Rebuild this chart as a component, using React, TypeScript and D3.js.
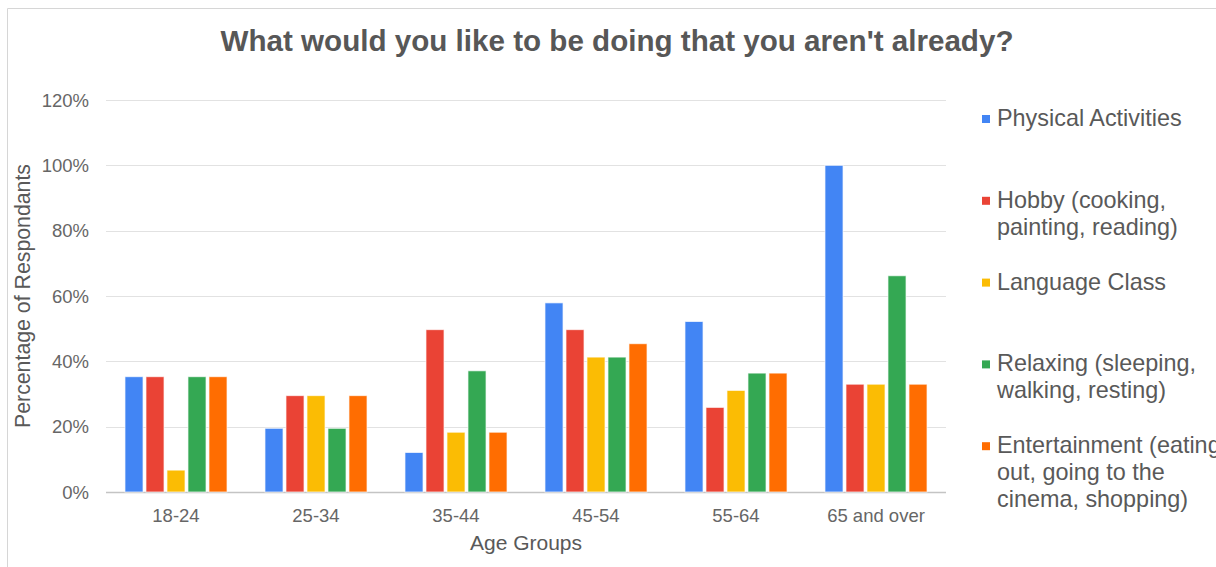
import React from "react";
import * as d3 from "d3";

// Survey results: share of respondents per age group wanting each activity
const ageGroups = ["18-24", "25-34", "35-44", "45-54", "55-64", "65 and over"];
const seriesNames = [
  "Physical Activities",
  "Hobby (cooking, painting, reading)",
  "Language Class",
  "Relaxing (sleeping, walking, resting)",
  "Entertainment (eating out, going to the cinema, shopping)",
];
const legendLines = [
  ["Physical Activities"],
  ["Hobby (cooking,", "painting, reading)"],
  ["Language Class"],
  ["Relaxing (sleeping,", "walking, resting)"],
  ["Entertainment (eating", "out, going to the", "cinema, shopping)"],
];
const physicalActivities = [35.3, 19.5, 12.1, 57.9, 52.2, 100];
const hobby = [35.3, 29.5, 49.7, 49.7, 25.9, 33];
const languageClass = [6.7, 29.5, 18.3, 41.3, 31.1, 33];
const relaxing = [35.3, 19.5, 37.1, 41.3, 36.4, 66.2];
const entertainment = [35.3, 29.5, 18.3, 45.4, 36.4, 33];
const yTicks = [0, 20, 40, 60, 80, 100, 120];

const seriesValues = [physicalActivities, hobby, languageClass, relaxing, entertainment];
const colors = ["#4285F4", "#EA4335", "#FBBC04", "#34A853", "#FF6D01"];

const W = 1216;
const H = 567;
const FONT = "'Liberation Sans', Arial, sans-serif";

export default function App() {
  const plotLeft = 106;
  const plotRight = 946;
  const plotTop = 100;
  const plotBottom = 492;

  const x0 = d3
    .scaleBand<string>()
    .domain(ageGroups)
    .range([plotLeft, plotRight])
    .paddingInner(0.25)
    .paddingOuter(0.125);
  const x1 = d3
    .scaleBand<string>()
    .domain(seriesNames)
    .range([0, x0.bandwidth()])
    .paddingInner(0.14)
    .paddingOuter(0.07);
  const y = d3.scaleLinear().domain([0, 120]).range([plotBottom, plotTop]);

  const legendX = 982;
  const legendTop = 126;
  const legendStep = 81.8;
  const legendLineH = 26.7;

  return (
    <svg
      width={W}
      height={H}
      style={{ position: "absolute", left: 0, top: 0, background: "#fff" }}
      fontFamily={FONT}
    >
      {/* frame */}
      <line x1={7.5} y1={8.5} x2={W} y2={8.5} stroke="#d6d6d6" strokeWidth={1} />
      <line x1={7.5} y1={8.5} x2={7.5} y2={H} stroke="#d6d6d6" strokeWidth={1} />

      {/* title */}
      <text
        x={617}
        y={50.5}
        textAnchor="middle"
        fontSize={29.6}
        fontWeight="bold"
        fill="#575757"
      >
        What would you like to be doing that you aren't already?
      </text>

      {/* gridlines and y tick labels */}
      {yTicks.map((t) => (
        <g key={t}>
          <line
            x1={plotLeft}
            x2={plotRight}
            y1={Math.round(y(t)) + 0.5}
            y2={Math.round(y(t)) + 0.5}
            stroke={t === 0 ? "#c4c4c4" : "#e2e2e2"}
            strokeWidth={t === 0 ? 1.5 : 1.2}
          />
          <text
            x={89}
            y={y(t) + 6.5}
            textAnchor="end"
            fontSize={18.5}
            fill="#666"
          >
            {`${t}%`}
          </text>
        </g>
      ))}

      {/* bars */}
      {ageGroups.map((g, gi) => (
        <g key={g} transform={`translate(${x0(g)},0)`}>
          {seriesNames.map((s, si) => {
            const v = seriesValues[si][gi];
            return (
              <rect
                key={s}
                x={x1(s)}
                y={y(v)}
                width={x1.bandwidth()}
                height={y(0) - y(v)}
                fill={colors[si]}
                stroke="#ffffff"
                strokeOpacity={0.7}
                strokeWidth={1}
              />
            );
          })}
        </g>
      ))}

      {/* x tick labels */}
      {ageGroups.map((g) => (
        <text
          key={g}
          x={(x0(g) ?? 0) + x0.bandwidth() / 2}
          y={521.5}
          textAnchor="middle"
          fontSize={18.5}
          fill="#666"
        >
          {g}
        </text>
      ))}

      {/* axis titles */}
      <text
        x={(plotLeft + plotRight) / 2}
        y={550}
        textAnchor="middle"
        fontSize={21}
        fill="#595959"
      >
        Age Groups
      </text>
      <text
        transform={`translate(30,${(plotTop + plotBottom) / 2}) rotate(-90)`}
        textAnchor="middle"
        fontSize={21.3}
        fill="#595959"
      >
        Percentage of Respondants
      </text>

      {/* legend */}
      {legendLines.map((lines, i) => {
        const by = legendTop + i * legendStep;
        return (
          <g key={seriesNames[i]}>
            <rect x={legendX} y={by - 11} width={8} height={8} fill={colors[i]} />
            <text fontSize={23.4} fill="#595959">
              {lines.map((ln, li) => (
                <tspan key={li} x={legendX + 15} y={by + li * legendLineH}>
                  {ln}
                </tspan>
              ))}
            </text>
          </g>
        );
      })}
    </svg>
  );
}
